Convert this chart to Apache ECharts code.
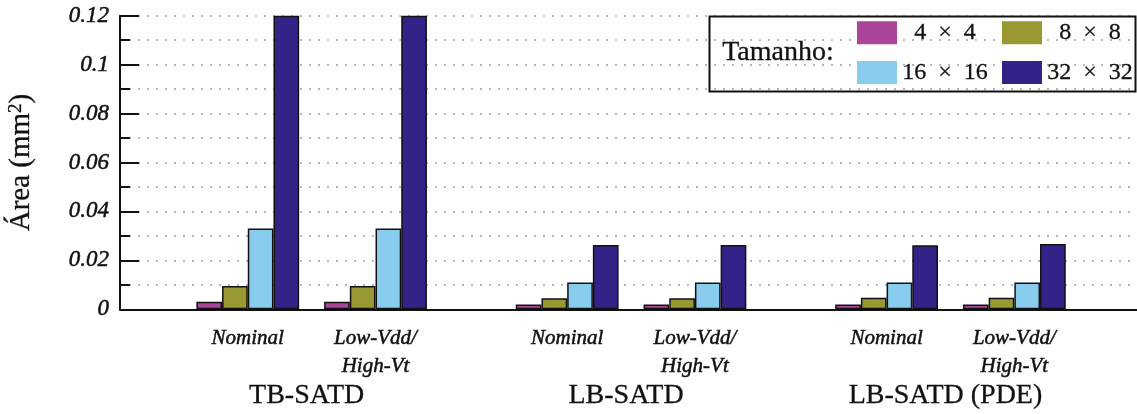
<!DOCTYPE html>
<html>
<head>
<meta charset="utf-8">
<script src="https://cdn.jsdelivr.net/npm/echarts@6/dist/echarts.min.js"></script>
<style>
  html, body { margin: 0; padding: 0; background: #fff; }
  #chart { width: 1137px; height: 414px; }
</style>
</head>
<body>
<div id="chart"></div>
<script>
// Circuit area per SATD architecture, operating condition and block size
const architectures = ['TB-SATD', 'LB-SATD', 'LB-SATD (PDE)'];
const conditions = ['Nominal', 'Low-Vdd/\nHigh-Vt'];
const blockSizes = ['4 × 4', '8 × 8', '16 × 16', '32 × 32'];

// one value per (architecture, condition): TB Nom, TB Low, LB Nom, LB Low, PDE Nom, PDE Low
const area4x4   = [0.0031, 0.0031, 0.0020, 0.0020, 0.0020, 0.0020];
const area8x8   = [0.0095, 0.0095, 0.0045, 0.0045, 0.0047, 0.0047];
const area16x16 = [0.0330, 0.0330, 0.0110, 0.0110, 0.0110, 0.0110];
const area32x32 = [0.1200, 0.1200, 0.0263, 0.0263, 0.0262, 0.0267];

const seriesValues = [area4x4, area8x8, area16x16, area32x32];
const colors = ['#AA4499', '#999933', '#88CCEE', '#332288'];

// horizontal slot layout: two conditions per architecture, wider gap between architectures
const slotOf = (g, c) => 2 + g * 5 + c * 2;
const groupCenter = g => 3 + g * 5;
const xMax = 15.92;

const slotLabel = {};
architectures.forEach((a, g) => conditions.forEach((c, ci) => { slotLabel[slotOf(g, ci)] = c; }));
const groupLabel = {};
architectures.forEach((a, g) => { groupLabel[groupCenter(g)] = a; });

const slots = Object.keys(slotLabel).map(Number);
const centers = Object.keys(groupLabel).map(Number);

const serif = 'Liberation Serif';
const ink = '#111';
// slightly heavier glyphs
const heavy = { textBorderColor: ink, textBorderWidth: 0.5 };

const series = blockSizes.map((name, si) => ({
  name,
  type: 'bar',
  xAxisIndex: 0,
  barWidth: 25.7,
  barGap: '0%',
  itemStyle: { color: colors[si], borderColor: ink, borderWidth: 1.5 },
  data: seriesValues[si].map((v, k) => [slotOf(Math.floor(k / 2), k % 2), v])
}));

const legendText = {
  fontFamily: serif, fontSize: 24, color: ink, lineHeight: 23,
  rich: {
    c: { fontFamily: serif, fontSize: 24, color: ink, width: 86, align: 'center', textBorderColor: ink, textBorderWidth: 0.3 }
  }
};
const spaced = n => '{c|' + n.replace(/ /g, '\u2002') + '}';

const chart = echarts.init(document.getElementById('chart'), null, { renderer: 'canvas' });
chart.setOption({
  animation: false,
  backgroundColor: '#fff',
  grid: { left: 120, right: 0, top: 15.7, bottom: 104.7, outerBoundsMode: 'none', containLabel: false },
  xAxis: [
    {
      type: 'value', min: 0, max: xMax,
      axisLine: { show: true, onZero: false, lineStyle: { color: ink, width: 2 } },
      axisTick: { show: false },
      splitLine: { show: false },
      axisLabel: Object.assign({
        customValues: slots,
        formatter: v => slotLabel[v] || '',
        fontFamily: serif, fontStyle: 'italic', fontSize: 21, lineHeight: 28,
        color: ink, margin: 15, verticalAlign: 'top'
      }, heavy)
    },
    {
      type: 'value', min: 0, max: xMax, position: 'bottom',
      axisLine: { show: false }, axisTick: { show: false }, splitLine: { show: false },
      axisLabel: {
        customValues: centers,
        formatter: v => groupLabel[v] || '',
        fontFamily: serif, fontSize: 28, lineHeight: 28,
        color: ink, margin: 72, verticalAlign: 'top', padding: [0, 10, 0, 0],
        textBorderColor: ink, textBorderWidth: 0.3
      }
    }
  ],
  yAxis: {
    type: 'value', min: 0, max: 0.12, interval: 0.02,
    name: 'Área (mm{s|2})', nameLocation: 'middle', nameGap: 84, nameRotate: 90,
    nameTextStyle: {
      fontFamily: serif, fontSize: 29, color: ink, textBorderColor: ink, textBorderWidth: 0.3,
      rich: { s: { fontFamily: serif, fontSize: 19, color: ink, verticalAlign: 'top', lineHeight: 22, padding: [0, 0, 10, 0], textBorderColor: ink, textBorderWidth: 0.3 } }
    },
    axisLine: { show: true, lineStyle: { color: ink, width: 2 } },
    axisTick: { show: true, inside: true, length: 19, lineStyle: { color: ink, width: 2 } },
    minorTick: { show: true, splitNumber: 2, length: 10, lineStyle: { color: ink, width: 2 } },
    splitLine: { show: true, lineStyle: { color: '#a0a0a0', width: 1.5, type: [2, 7] } },
    minorSplitLine: { show: true, lineStyle: { color: '#a0a0a0', width: 1.5, type: [2, 7] } },
    axisLabel: Object.assign({ fontFamily: serif, fontStyle: 'italic', fontSize: 23, color: ink, margin: 11 }, heavy)
  },
  legend: [
    {
      data: [blockSizes[0], blockSizes[2]], orient: 'vertical', left: 857, top: 20.5,
      itemWidth: 40, itemHeight: 23, itemGap: 15.5, padding: 0, selectedMode: false,
      icon: 'rect', itemStyle: { borderWidth: 0 },
      formatter: spaced, textStyle: legendText
    },
    {
      data: [blockSizes[1], blockSizes[3]], orient: 'vertical', left: 1002, top: 20.5,
      itemWidth: 40, itemHeight: 23, itemGap: 15.5, padding: 0, selectedMode: false,
      icon: 'rect', itemStyle: { borderWidth: 0 },
      formatter: spaced, textStyle: legendText
    }
  ],
  graphic: [
    {
      type: 'rect', left: 707, top: 14,
      shape: { width: 426, height: 75 },
      style: { fill: 'none', stroke: ink, lineWidth: 2 }, z: 100
    },
    {
      type: 'text', left: 722, top: 38,
      style: { text: 'Tamanho:', fontFamily: serif, fontSize: 28, fill: ink, stroke: ink, lineWidth: 0.3 }, z: 100
    }
  ],
  series
});
</script>
</body>
</html>
